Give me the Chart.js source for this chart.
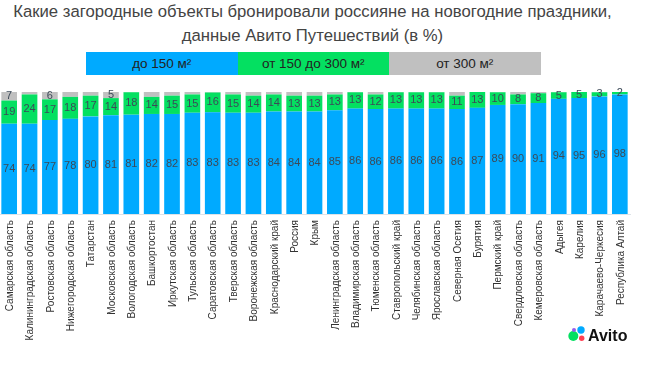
<!DOCTYPE html>
<html lang="ru">
<head>
    <meta charset="UTF-8">
    <title>Загородные объекты</title>
    <script src="https://cdn.jsdelivr.net/npm/chart.js"></script>
    <style>
        body { margin: 0; width: 660px; height: 384px; background: #fff; overflow: hidden; position: relative; font-family: 'Liberation Sans', Arial, sans-serif; }
        #title { position: absolute; left: 0; top: 0; width: 625px; text-align: center; font-size: 16.7px; line-height: 24px; color: #444; }
        #legend { position: absolute; left: 86px; top: 52px; display: flex; height: 23px; font-size: 13.5px; line-height: 23px; text-align: center; color: #222; }
        #legend div { width: 151.5px; }
        #chart-box { position: absolute; left: -1px; top: 0; width: 661px; height: 384px; }
        #logo { position: absolute; left: 568px; top: 325px; width: 70px; height: 24px; }
        #logo span { position: absolute; left: 20px; top: 0; font-size: 16px; font-weight: bold; line-height: 21px; color: #111; }
        #logo svg { position: absolute; left: 0; top: 0; }
    </style>
</head>
<body>
    <div id="title">Какие загородные объекты бронировали россияне на новогодние праздники,<br>данные Авито Путешествий (в %)</div>
    <div id="legend">
        <div style="background:#00aaff">до 150 м²</div>
        <div style="background:#04e061">от 150 до 300 м²</div>
        <div style="background:#c0c0c0">от 300 м²</div>
    </div>
    <div id="chart-box"><canvas id="chart"></canvas></div>
    <div id="logo">
        <svg width="20" height="24">
            <circle cx="5.3" cy="11" r="5" fill="#04e061"/>
            <circle cx="13" cy="5" r="3.7" fill="#00aaff"/>
            <circle cx="13.7" cy="13.3" r="2.7" fill="#ff4053"/>
            <circle cx="6" cy="5" r="2" fill="#965eeb"/>
        </svg>
        <span>Avito</span>
    </div>
    <script>
        const regions = ['Самарская область', 'Калининградская область', 'Ростовская область', 'Нижегородская область', 'Татарстан', 'Московская область', 'Вологодская область', 'Башкортостан', 'Иркутская область', 'Тульская область', 'Саратовская область', 'Тверская область', 'Воронежская область', 'Краснодарский край', 'Россия', 'Крым', 'Ленинградская область', 'Владимирская область', 'Тюменская область', 'Ставропольский край', 'Челябинская область', 'Ярославская область', 'Северная Осетия', 'Бурятия', 'Пермский край', 'Свердловская область', 'Кемеровская область', 'Адыгея', 'Карелия', 'Карачаево-Черкесия', 'Республика Алтай'];
        const small = [74, 74, 77, 78, 80, 81, 81.4, 82, 82, 83, 83.3, 83, 83, 84, 84, 84, 85, 86.4, 86, 86.4, 86.4, 86.4, 86, 87, 89.4, 90, 91, 94.4, 95, 96.4, 98];
        const medium = [19, 24, 17, 18, 17, 14, 18.4, 14, 15, 15, 16.3, 15, 14, 14, 13, 13, 13, 13.4, 12, 13.4, 13.4, 13.4, 11, 13, 10.4, 8, 8, 5.4, 5, 3.4, 2];
        const large = [7, 2, 6, 4, 3, 5, 0.2, 4, 3, 2, 0.4, 2, 3, 2, 3, 3, 2, 0.2, 2, 0.2, 0.2, 0.2, 3, 0, 0.2, 2, 1, 0.2, 0, 0.2, 0];

        // подписи значений внутри столбцов
        const valueLabels = {
            id: 'valueLabels',
            afterDatasetsDraw(chart) {
                const ctx = chart.ctx;
                ctx.save();
                ctx.font = '11px "Liberation Sans"';
                ctx.fillStyle = '#3c4a58';
                ctx.textAlign = 'center';
                ctx.textBaseline = 'middle';
                chart.data.datasets.forEach((ds, i) => {
                    chart.getDatasetMeta(i).data.forEach((bar, j) => {
                        const v = ds.data[j];
                        if (i === 2 && v < 5) return;
                        ctx.fillText(Math.round(v), bar.x, (bar.y + bar.base) / 2);
                    });
                });
                ctx.restore();
            }
        };

        new Chart(document.getElementById('chart'), {
            type: 'bar',
            data: {
                labels: regions,
                datasets: [
                    { label: 'до 150 м²', data: small, backgroundColor: '#00aaff' },
                    { label: 'от 150 до 300 м²', data: medium, backgroundColor: '#04e061' },
                    { label: 'от 300 м²', data: large, backgroundColor: '#c0c0c0' }
                ]
            },
            options: {
                responsive: true,
                maintainAspectRatio: false,
                animation: false,
                layout: { padding: { top: 92, right: 30, left: 0, bottom: 0 } },
                datasets: { bar: { barPercentage: 0.77, categoryPercentage: 1 } },
                plugins: { legend: { display: false }, title: { display: false }, tooltip: { enabled: false } },
                scales: {
                    x: {
                        stacked: true,
                        grid: { display: false, drawTicks: false },
                        border: { color: '#dde3e8' },
                        afterFit(axis) { axis.height = 170; },
                        ticks: {
                            autoSkip: false,
                            minRotation: 90,
                            maxRotation: 90,
                            padding: 6,
                            labelOffset: 1,
                            color: '#333',
                            font: { family: 'Liberation Sans', size: 10 }
                        }
                    },
                    y: { stacked: true, display: false, min: 0, max: 100 }
                }
            },
            plugins: [valueLabels]
        });
    </script>
</body>
</html>
